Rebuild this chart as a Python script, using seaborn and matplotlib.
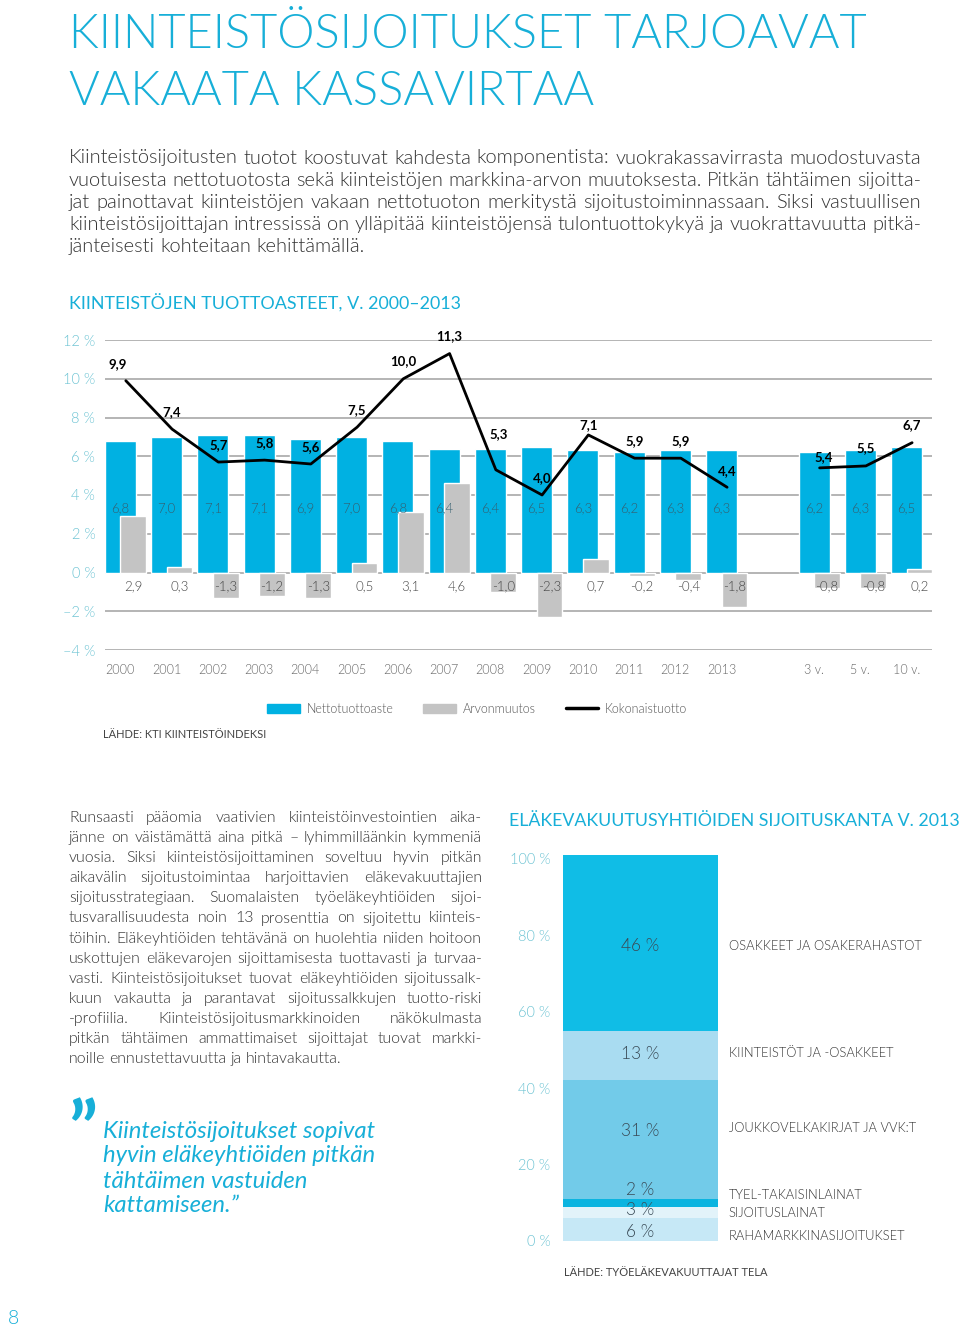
import numpy as np
import matplotlib
matplotlib.use("Agg")
import matplotlib.pyplot as plt
from matplotlib import font_manager
from matplotlib.patches import Patch
from matplotlib.lines import Line2D
import seaborn as sns

# --- data -------------------------------------------------------------
periods = ["2000", "2001", "2002", "2003", "2004", "2005", "2006", "2007",
           "2008", "2009", "2010", "2011", "2012", "2013", "3 v.", "5 v.", "10 v."]
netto = [6.8, 7.0, 7.1, 7.1, 6.9, 7.0, 6.8, 6.4, 6.4, 6.5, 6.3, 6.2, 6.3, 6.3,
         6.2, 6.3, 6.5]
arvo = [2.9, 0.3, -1.3, -1.2, -1.3, 0.5, 3.1, 4.6, -1.0, -2.3, 0.7, -0.2, -0.4, -1.8,
        -0.8, -0.8, 0.2]
kokonais = [9.9, 7.4, 5.7, 5.8, 5.6, 7.5, 10.0, 11.3, 5.3, 4.0, 7.1, 5.9, 5.9, 4.4,
            5.4, 5.5, 6.7]
n_years = 14

alloc_names = ["RAHAMARKKINASIJOITUKSET", "SIJOITUSLAINAT", "TYEL-TAKAISINLAINAT",
               "JOUKKOVELKAKIRJAT JA VVK:T", "KIINTEISTÖT JA -OSAKKEET",
               "OSAKKEET JA OSAKERAHASTOT"]
alloc_share = [6, 3, 2, 31, 13, 46]

# --- style --------------------------------------------------------------
sns.set_theme(style="white")
names = {f.name for f in font_manager.fontManager.ttflist}
BODY = "Lato" if "Lato" in names else "DejaVu Sans"
plt.rcParams["font.family"] = [BODY, "DejaVu Sans"]
LIGHT = 300

TEAL = "#17afd8"
TICK = "#6cc3d3"
BLUE = "#00b1e2"
GREY = "#c4c4c4"
TXT = "#333333"
alloc_colors = ["#c6e8f6", "#e2f3fa", "#0ab4e0", "#72cbe9", "#a9dcf1", "#10bde6"]

W, H = 960, 1331
fig = plt.figure(figsize=(W / 100, H / 100), dpi=100)
R = fig.canvas.get_renderer()


def ftext(x, y, s, **kw):
    kw.setdefault("va", "center")
    return fig.text(x / W, 1 - y / H, s, **kw)


def fit(lines, width, base=12, **kw):
    widest = 0
    for s in lines:
        t = fig.text(0, 0, s, fontsize=base, **kw)
        widest = max(widest, t.get_window_extent(R).width)
        t.remove()
    return base * width / widest


def justify(lines, x0, y0, width, step, size, **kw):
    sp = size * 100 / 72 * 0.25
    for i, line in enumerate(lines):
        words = line.split(" ")
        ts = [ftext(0, y0 + i * step, w, fontsize=size, **kw) for w in words]
        ws = [t.get_window_extent(R).width for t in ts]
        last = i == len(lines) - 1
        gap = sp if (last or len(words) == 1) else (width - sum(ws)) / (len(words) - 1)
        x = x0
        for t, w in zip(ts, ws):
            t.set_x(x / W)
            x += w + gap


# --- page title & intro ----------------------------------------------
title = ["KIINTEISTÖSIJOITUKSET TARJOAVAT", "VAKAATA KASSAVIRTAA"]
ts = fit(title[:1], 796, base=40, weight=LIGHT)
ftext(69, 35, title[0], fontsize=ts, weight=LIGHT, color=TEAL)
ftext(69, 92, title[1], fontsize=ts, weight=LIGHT, color=TEAL)

intro = [
    "Kiinteistösijoitusten tuotot koostuvat kahdesta komponentista: vuokrakassavirrasta muodostuvasta",
    "vuotuisesta nettotuotosta sekä kiinteistöjen markkina-arvon muutoksesta. Pitkän tähtäimen sijoitta-",
    "jat painottavat kiinteistöjen vakaan nettotuoton merkitystä sijoitustoiminnassaan. Siksi vastuullisen",
    "kiinteistösijoittajan intressissä on ylläpitää kiinteistöjensä tulontuottokykyä ja vuokrattavuutta pitkä-",
    "jänteisesti kohteitaan kehittämällä.",
]
isz = fit(intro[:-1], 852, weight=LIGHT)
justify(intro, 69, 158, 852, 22.2, isz, color=TXT, weight=LIGHT)

# --- chart 1: returns -------------------------------------------------
slot = np.array(list(range(n_years)) + [15, 16, 17])
ftext(69, 303, "KIINTEISTÖJEN TUOTTOASTEET, V. 2000–2013",
      fontsize=fit(["KIINTEISTÖJEN TUOTTOASTEET, V. 2000–2013"], 391), color=TEAL)

ax = fig.add_axes([105 / W, 1 - 650 / H, 827 / W, 310 / H])
sns.barplot(x=slot, y=netto, native_scale=True, width=0.67, color=BLUE,
            saturation=1, ax=ax, zorder=2)
sns.barplot(x=slot + 0.28, y=arvo, native_scale=True, width=0.56, color=GREY,
            saturation=1, ax=ax, zorder=3)
sns.lineplot(x=slot[:n_years] + 0.12, y=kokonais[:n_years], color="black", lw=2,
             ax=ax, zorder=4)
sns.lineplot(x=slot[n_years:] + 0.12, y=kokonais[n_years:], color="black", lw=2,
             ax=ax, zorder=4)

nudge = {8: (2, 26), 10: (0, 7), 13: (0, 12), 14: (3, 8), 0: (-6, 12)}
for i, (p, v) in enumerate(zip(slot, kokonais)):
    dx, dy = nudge.get(i, (0, 12.5))
    ax.annotate(f"{v:.1f}".replace(".", ","), (p + 0.12, v), xytext=(dx, dy),
                textcoords="offset points", ha="center", va="center",
                fontsize=9.5, fontweight="bold", color="black", zorder=5)
for p, v in zip(slot, netto):
    ax.text(p, 3.3, f"{v:.1f}".replace(".", ","), ha="center", va="center",
            fontsize=9.5, color="#355f70", weight=LIGHT, zorder=5)
for p, v in zip(slot, arvo):
    ax.text(p + 0.28, -0.72, f"{v:.1f}".replace(".", ","),
            ha="center", va="center", fontsize=9.5, color="#444444",
            weight=LIGHT, zorder=5)

ax.set_xlim(-0.33, 17.55)
ax.set_ylim(-4, 12)
ax.set_yticks(range(-4, 13, 2))
ax.set_yticklabels([f"{t} %".replace("-", "–") for t in range(-4, 13, 2)],
                   color=TICK, fontsize=10.5, weight=LIGHT)
ax.set_xticks(slot)
ax.set_xticklabels(periods, color="#666666", fontsize=9, weight=LIGHT)
ax.tick_params(axis="y", length=0, pad=7)
ax.tick_params(axis="x", length=0, pad=10)
ax.grid(axis="y", color="#b4b4b4", lw=1.4, zorder=0)
ax.grid(axis="x", visible=False)
ax.set_axisbelow(True)
ax.set_xlabel("")
ax.set_ylabel("")
sns.despine(ax=ax, left=True, bottom=True)

handles = [Patch(color=BLUE), Patch(color=GREY), Line2D([], [], color="black", lw=2.5)]
fig.legend(handles, ["Nettotuottoaste", "Arvonmuutos", "Kokonaistuotto"], ncol=3,
           loc="center left", bbox_to_anchor=(267 / W, 1 - 709 / H), frameon=False,
           handlelength=2.6, handleheight=0.8, handletextpad=0.55,
           columnspacing=2.4, borderpad=0, borderaxespad=0, labelcolor="#555555",
           prop={"weight": LIGHT, "size": 9})
ftext(103, 734, "LÄHDE: KTI KIINTEISTÖINDEKSI", fontsize=8, color="#444444")

# --- left column text ---------------------------------------------------
body = [
    "Runsaasti pääomia vaativien kiinteistöinvestointien aika-",
    "jänne on väistämättä aina pitkä – lyhimmilläänkin kymmeniä",
    "vuosia. Siksi kiinteistösijoittaminen soveltuu hyvin pitkän",
    "aikavälin sijoitustoimintaa harjoittavien eläkevakuuttajien",
    "sijoitusstrategiaan. Suomalaisten työeläkeyhtiöiden sijoi-",
    "tusvarallisuudesta noin 13 prosenttia on sijoitettu kiinteis-",
    "töihin. Eläkeyhtiöiden tehtävänä on huolehtia niiden hoitoon",
    "uskottujen eläkevarojen sijoittamisesta tuottavasti ja turvaa-",
    "vasti. Kiinteistösijoitukset tuovat eläkeyhtiöiden sijoitussalk-",
    "kuun vakautta ja parantavat sijoitussalkkujen tuotto-riski",
    "-profiilia. Kiinteistösijoitusmarkkinoiden näkökulmasta",
    "pitkän tähtäimen ammattimaiset sijoittajat tuovat markki-",
    "noille ennustettavuutta ja hintavakautta.",
]
bsz = fit(body[:-1], 413, weight=LIGHT)
justify(body, 69, 818, 413, 20.1, bsz, color=TXT, weight=LIGHT)

quote = ["Kiinteistösijoitukset sopivat", "hyvin eläkeyhtiöiden pitkän",
         "tähtäimen vastuiden", "kattamiseen.”"]
qsz = fit(quote[:1], 272, style="italic")
for i, q in enumerate(quote):
    ftext(103, 1131 + i * 25, q, fontsize=qsz, style="italic", color=TEAL)
ftext(69, 1099, "”", fontsize=54, weight="bold", color=TEAL, va="top")

# --- chart 2: allocation ---------------------------------------------
ftext(509, 821, "ELÄKEVAKUUTUSYHTIÖIDEN SIJOITUSKANTA V. 2013",
      fontsize=fit(["ELÄKEVAKUUTUSYHTIÖIDEN SIJOITUSKANTA V. 2013"], 449), color=TEAL)

ax2 = fig.add_axes([563 / W, 1 - 1241 / H, 155 / W, 386 / H])
bottoms = np.concatenate([[0], np.cumsum(alloc_share)[:-1]])
ax2.bar(0, alloc_share, bottom=bottoms, width=1, color=alloc_colors, lw=0)
pct_shift = [-2.5, 2, 12.5, 9, 1.5, -3]     # px nudges, crowded labels
name_shift = [-6, -1, 8, 12, 3, -3]
for v, b, name, dp, dn in zip(alloc_share, bottoms, alloc_names, pct_shift, name_shift):
    yc = b + v / 2
    ax2.annotate(f"{v} %", (0, yc), xytext=(0, dp * 0.72), textcoords="offset points",
                 ha="center", va="center", fontsize=12.5, color="#3a4b57", weight=LIGHT)
    ax2.annotate(name, (1.07, yc), xycoords=("axes fraction", "data"),
                 xytext=(0, dn * 0.72), textcoords="offset points",
                 ha="left", va="center", fontsize=9.3, color="#333333", weight=LIGHT)
ax2.set_xlim(-0.5, 0.5)
ax2.set_ylim(0, 101)
ax2.set_xticks([])
ax2.set_yticks(range(0, 101, 20))
ax2.set_yticklabels([f"{t} %" for t in range(0, 101, 20)], color=TICK,
                    fontsize=10.5, weight=LIGHT)
ax2.tick_params(axis="y", length=0, pad=9)
ax2.grid(False)
sns.despine(ax=ax2, left=True, bottom=True)
ftext(564, 1272, "LÄHDE: TYÖELÄKEVAKUUTTAJAT TELA", fontsize=8, color="#444444")

ftext(8, 1318, "8", fontsize=14, color=TEAL, weight=LIGHT)

fig.savefig("out.png", dpi=100)
